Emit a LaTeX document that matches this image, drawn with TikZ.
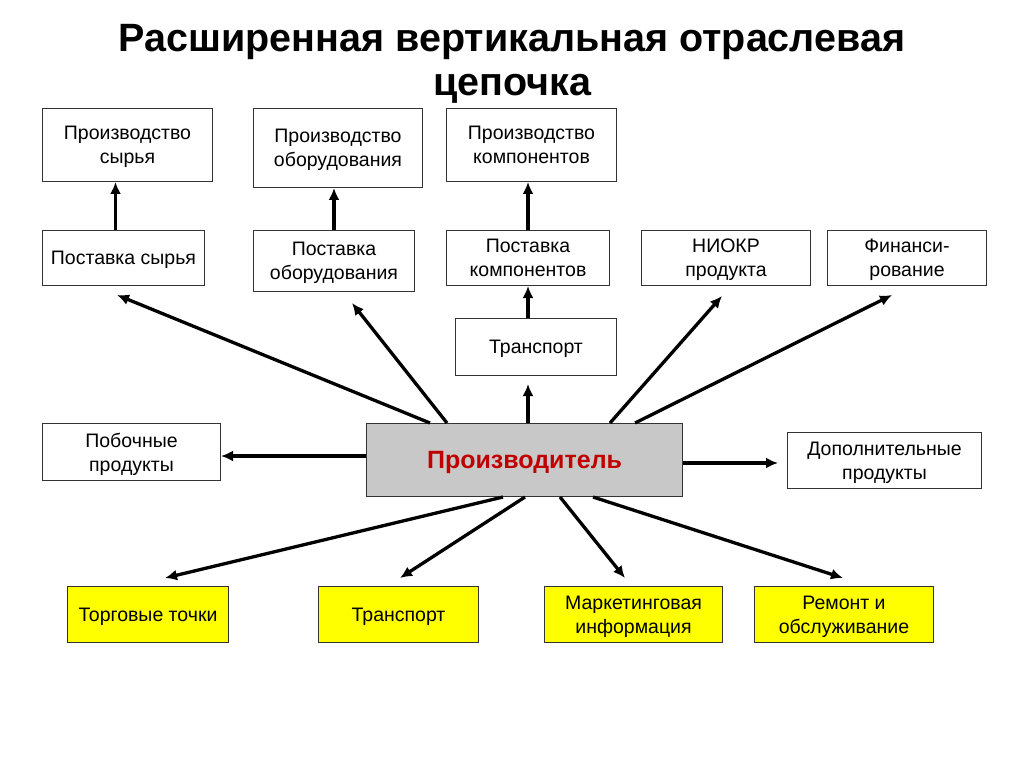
\documentclass[tikz,border=0pt]{standalone}
\usepackage{fontspec}
\setmainfont{Liberation Sans}
\usetikzlibrary{arrows.meta,calc}
\definecolor{boxline}{HTML}{333333}
\definecolor{prodfill}{HTML}{C8C8C8}
\definecolor{prodred}{HTML}{C00000}
\definecolor{yel}{HTML}{FFFF00}
\begin{document}
\begin{tikzpicture}[x=1pt,y=-1pt,
  box/.style={draw=boxline,line width=1pt,fill=white,anchor=north west,inner sep=0pt,align=center,font=\fontsize{19.5}{24}\selectfont,text depth=0pt},
  ybox/.style={box,fill=yel},
  ttl/.style={anchor=base,inner sep=0pt,font=\bfseries\fontsize{39.5}{44}\selectfont},
  arr/.style={line width=3.3pt,-{Latex[length=12pt,width=11pt]}}]
\useasboundingbox (0,0) rectangle (1024,767);
\fill[white] (0,0) rectangle (1024,767);
\node[ttl] (title1) at (512,52) {Расширенная вертикальная отраслевая};
\node[ttl] (title2) at (512,96) {цепочка};
% row 1
\node[box,minimum width=170pt,minimum height=73pt] (prs) at (42,108) {Производство\\сырья};
\node[box,minimum width=169pt,minimum height=79pt] (pro) at (253,108) {Производство\\оборудования};
\node[box,minimum width=170pt,minimum height=73pt] (prk) at (446,108) {Производство\\компонентов};
% row 2
\node[box,minimum width=162pt,minimum height=55pt] (ps) at (42,230) {Поставка сырья};
\node[box,minimum width=161pt,minimum height=61pt] (po) at (253,230) {Поставка\\оборудования};
\node[box,minimum width=163pt,minimum height=55pt] (pk) at (446,230) {Поставка\\компонентов};
\node[box,minimum width=169pt,minimum height=55pt] (niokr) at (641,230) {НИОКР\\продукта};
\node[box,minimum width=159pt,minimum height=55pt] (fin) at (827,230) {Финанси-\\рование};
% transport up
\node[box,minimum width=161pt,minimum height=57pt] (tr) at (455,318) {Транспорт};
% producer
\node[box,fill=prodfill,minimum width=316pt,minimum height=73pt,font=\bfseries\fontsize{25}{28}\selectfont,text=prodred] (prod) at (366,423) {Производитель};
\node[box,minimum width=178pt,minimum height=57pt] (pob) at (42,423) {Побочные\\продукты};
\node[box,minimum width=194pt,minimum height=56pt] (dop) at (787,432) {Дополнительные\\продукты};
% bottom
\node[ybox,minimum width=161pt,minimum height=56pt] (tt) at (67,586) {Торговые точки};
\node[ybox,minimum width=160pt,minimum height=56pt] (tr2) at (318,586) {Транспорт};
\node[ybox,minimum width=178pt,minimum height=56pt] (mi) at (544,586) {Маркетинговая\\информация};
\node[ybox,minimum width=179pt,minimum height=56pt] (ro) at (754,586) {Ремонт и\\обслуживание};
% tips
\coordinate (t1) at (117,295);
\coordinate (t2) at (352,303);
\coordinate (t3) at (722,296);
\coordinate (t4) at (892,295);
\coordinate (b1) at (165,578);
\coordinate (b2) at (400,578);
\coordinate (b3) at (625,578);
\coordinate (b4) at (843,578);
% vertical arrows
\draw[arr] (ps.north) ++(-8,0) coordinate (psn) -- (psn |- prs.south);
\draw[arr] (po.north) coordinate (pon) -- (pon |- pro.south);
\draw[arr] (pk.north) coordinate (pkn) -- (pkn |- prk.south);
\draw[arr] (tr.north -| pkn) -- (pkn |- pk.south);
\draw[arr,shorten >=8pt] (prod.north -| pkn) -- (pkn |- tr.south);
% producer arrows
\draw[arr] ($(prod.north west)+(64,0)$) -- (t1);
\draw[arr] ($(prod.north west)+(81,0)$) -- (t2);
\draw[arr] ($(prod.north west)+(244,0)$) -- (t3);
\draw[arr] ($(prod.north west)+(269,0)$) -- (t4);
\draw[arr] ($(prod.north west)+(0,33)$) coordinate (pl) -- (pl -| pob.east);
\draw[arr,shorten >=9pt] ($(prod.north east)+(0,40)$) coordinate (pr) -- (pr -| dop.west);
\draw[arr] ($(prod.south west)+(137,0)$) -- (b1);
\draw[arr] ($(prod.south west)+(159,0)$) -- (b2);
\draw[arr] ($(prod.south west)+(194,0)$) -- (b3);
\draw[arr] ($(prod.south west)+(227,0)$) -- (b4);
\end{tikzpicture}
\end{document}
